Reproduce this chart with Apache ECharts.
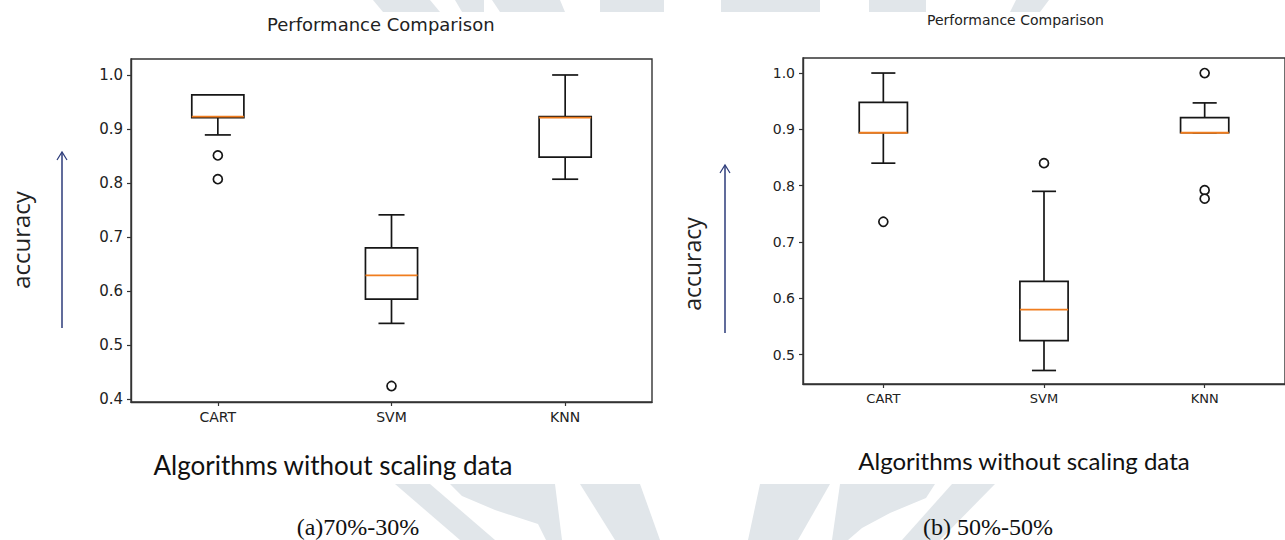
<!DOCTYPE html>
<html>
<head>
<meta charset="utf-8">
<script src="https://cdn.jsdelivr.net/npm/echarts@6/dist/echarts.min.js"></script>
<style>
html,body{margin:0;padding:0;background:#fff;}
#main{width:1285px;height:540px;}
</style>
</head>
<body>
<div id="main"></div>
<script>
// ---- data ----
const categories = ['CART', 'SVM', 'KNN'];
// [lower whisker, Q1, median, Q3, upper whisker]
const boxA = [
  [0.889, 0.921, 0.923, 0.963, 0.963],
  [0.540, 0.585, 0.629, 0.680, 0.741],
  [0.807, 0.848, 0.921, 0.923, 1.000]
];
const outliersA = [['CART', 0.851], ['CART', 0.807], ['SVM', 0.424]];
const boxB = [
  [0.840, 0.894, 0.894, 0.948, 1.000],
  [0.472, 0.525, 0.580, 0.630, 0.790],
  [0.894, 0.894, 0.894, 0.921, 0.947]
];
const outliersB = [['CART', 0.736], ['SVM', 0.840], ['KNN', 1.000], ['KNN', 0.792], ['KNN', 0.777]];
const yTicksA = [0.4, 0.5, 0.6, 0.7, 0.8, 0.9, 1.0];
const yTicksB = [0.5, 0.6, 0.7, 0.8, 0.9, 1.0];
const chartTitle = 'Performance Comparison';
const yName = 'accuracy';
const xName = 'Algorithms without scaling data';
const captionA = '(a)70%-30%';
const captionB = '(b) 50%-50%';

// ---- helpers ----
const BLACK = '#161616';
function renderBox(params, api) {
  const i = api.value(0);
  const lo = api.coord([i, api.value(1)]);
  const q1 = api.coord([i, api.value(2)]);
  const md = api.coord([i, api.value(3)]);
  const q3 = api.coord([i, api.value(4)]);
  const hi = api.coord([i, api.value(5)]);
  const band = api.size([1, 0])[0];
  const bw = band * 0.3;
  const cw = bw / 2;
  const x = lo[0];
  const st = { stroke: BLACK, lineWidth: 1.7, fill: null };
  return {
    type: 'group',
    children: [
      { type: 'line', shape: { x1: x, y1: q1[1], x2: x, y2: lo[1] }, style: st },
      { type: 'line', shape: { x1: x, y1: q3[1], x2: x, y2: hi[1] }, style: st },
      { type: 'line', shape: { x1: x - cw / 2, y1: lo[1], x2: x + cw / 2, y2: lo[1] }, style: st },
      { type: 'line', shape: { x1: x - cw / 2, y1: hi[1], x2: x + cw / 2, y2: hi[1] }, style: st },
      { type: 'rect', shape: { x: x - bw / 2, y: q3[1], width: bw, height: q1[1] - q3[1] }, style: { stroke: BLACK, lineWidth: 1.7, fill: '#fff' } },
      { type: 'line', shape: { x1: x - bw / 2, y1: md[1], x2: x + bw / 2, y2: md[1] }, style: { stroke: '#f07d1e', lineWidth: 1.8 } }
    ]
  };
}
function boxData(arr) { return arr.map((b, i) => [i].concat(b)); }

function yAxisCfg(grid, min, max, ticks, fs) {
  return {
    type: 'value', gridIndex: grid, min: min, max: max,
    axisLine: { show: true, lineStyle: { color: '#333', width: 1.4 } },
    axisTick: { show: true, length: 4, customValues: ticks, lineStyle: { color: '#333', width: 1.2 } },
    axisLabel: { customValues: ticks, formatter: v => v.toFixed(1), color: '#222', fontFamily: 'DejaVu Sans', fontSize: fs, margin: 8 },
    splitLine: { show: false }
  };
}
function xAxisCfg(grid, fs) {
  return {
    type: 'category', gridIndex: grid, data: categories, boundaryGap: true,
    axisLine: { show: true, lineStyle: { color: '#333', width: 1.4 } },
    axisTick: { show: true, alignWithLabel: true, length: 4, lineStyle: { color: '#333', width: 1.2 } },
    axisLabel: { color: '#222', fontFamily: 'DejaVu Sans', fontSize: fs, margin: 8 },
    splitLine: { show: false }
  };
}

const WM = '#e1e6ea';
function poly(pts) { return { type: 'polygon', z: -10, silent: true, shape: { points: pts }, style: { fill: WM } }; }

const chart = echarts.init(document.getElementById('main'), null, { renderer: 'svg' });
chart.setOption({
  backgroundColor: '#fff',
  animation: false,
  grid: [
    { left: 131, top: 59, width: 521, height: 343, show: true, borderColor: '#333', borderWidth: 1.4, backgroundColor: 'transparent' },
    { left: 803, top: 58, width: 485, height: 326, show: true, borderColor: '#333', borderWidth: 1.4, backgroundColor: 'transparent' }
  ],
  xAxis: [xAxisCfg(0, 14), xAxisCfg(1, 13)],
  yAxis: [yAxisCfg(0, 0.3944, 1.0296, yTicksA, 15), yAxisCfg(1, 0.448, 1.0267, yTicksB, 14)],
  series: [
    { type: 'custom', xAxisIndex: 0, yAxisIndex: 0, renderItem: renderBox, encode: { x: 0, y: [1, 2, 3, 4, 5] }, data: boxData(boxA), z: 3 },
    { type: 'custom', xAxisIndex: 1, yAxisIndex: 1, renderItem: renderBox, encode: { x: 0, y: [1, 2, 3, 4, 5] }, data: boxData(boxB), z: 3 },
    { type: 'scatter', xAxisIndex: 0, yAxisIndex: 0, data: outliersA, symbol: 'circle', symbolSize: 9, itemStyle: { color: '#fff', borderColor: BLACK, borderWidth: 1.7, opacity: 1 }, z: 4 },
    { type: 'scatter', xAxisIndex: 1, yAxisIndex: 1, data: outliersB, symbol: 'circle', symbolSize: 9, itemStyle: { color: '#fff', borderColor: BLACK, borderWidth: 1.7, opacity: 1 }, z: 4 }
  ],
  graphic: [
    // watermark (faint background logo)
    poly([[373, 0], [430, 0], [440, 12], [383, 12]]),
    poly([[455, 0], [484, 0], [484, 12], [462, 12]]),
    poly([[492, 0], [560, 0], [565, 12], [500, 12]]),
    poly([[600, 0], [664, 0], [664, 12], [600, 12]]),
    poly([[721, 0], [820, 0], [820, 12], [721, 12]]),
    poly([[869, 0], [926, 0], [926, 12], [869, 12]]),
    poly([[1016, 0], [1049, 0], [1040, 12], [1010, 12]]),
    poly([[395, 484], [430, 484], [495, 540], [460, 540]]),
    poly([[450, 484], [555, 484], [562, 540], [546, 540], [538, 524], [495, 510], [462, 496]]),
    poly([[580, 484], [640, 484], [660, 540], [615, 540]]),
    poly([[760, 484], [830, 484], [798, 540], [748, 540]]),
    poly([[840, 484], [935, 484], [926, 498], [890, 513], [862, 528], [848, 540], [832, 540]]),
    poly([[952, 484], [995, 484], [940, 540], [902, 540]]),
    // titles
    { type: 'text', left: 385 - 118, top: 15, style: { text: chartTitle, fontFamily: 'DejaVu Sans', fontSize: 18, fill: '#222' } },
    { type: 'text', left: 927, top: 13, style: { text: chartTitle, fontFamily: 'DejaVu Sans', fontSize: 14, fill: '#222' } },
    // y names
    { type: 'text', x: 20, y: 240, rotation: Math.PI / 2, style: { text: yName, fontFamily: 'Open Sans', fontSize: 24, fill: '#222', align: 'center', verticalAlign: 'middle' } },
    { type: 'text', x: 692, y: 264, rotation: Math.PI / 2, style: { text: yName, fontFamily: 'Open Sans', fontSize: 23, fill: '#222', align: 'center', verticalAlign: 'middle' } },
    // arrows
    { type: 'line', shape: { x1: 62, y1: 328, x2: 62, y2: 153 }, style: { stroke: '#2c3b7a', lineWidth: 1.5 } },
    { type: 'polyline', shape: { points: [[57, 160], [62, 152], [67, 160]] }, style: { stroke: '#2c3b7a', lineWidth: 1.2, fill: null } },
    { type: 'line', shape: { x1: 725, y1: 333, x2: 725, y2: 166 }, style: { stroke: '#2c3b7a', lineWidth: 1.5 } },
    { type: 'polyline', shape: { points: [[720, 173], [725, 165], [730, 173]] }, style: { stroke: '#2c3b7a', lineWidth: 1.2, fill: null } },
    // x names
    { type: 'text', x: 333, y: 465, style: { text: xName, fontFamily: 'Lato', fontSize: 26, fill: '#111', align: 'center', verticalAlign: 'middle' } },
    { type: 'text', x: 1024, y: 460, style: { text: xName, fontFamily: 'Lato', fontSize: 24, fill: '#111', align: 'center', verticalAlign: 'middle' } },
    // captions
    { type: 'text', x: 358, y: 527, style: { text: captionA, fontFamily: 'Liberation Serif', fontSize: 24, fill: '#111', align: 'center', verticalAlign: 'middle' } },
    { type: 'text', x: 988, y: 527, style: { text: captionB, fontFamily: 'Liberation Serif', fontSize: 24, fill: '#111', align: 'center', verticalAlign: 'middle' } }
  ]
});
</script>
</body>
</html>
